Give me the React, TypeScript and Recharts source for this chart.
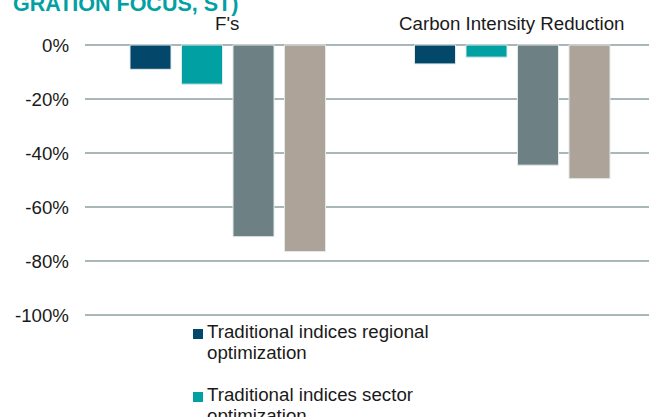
import { BarChart, Bar, XAxis, YAxis, CartesianGrid } from "recharts";

const categories = ["F's", "Carbon Intensity Reduction"];
const regional = [-9, -7];
const sector = [-14.5, -4.5];
const third = [-71, -44.5];
const fourth = [-76.5, -49.5];
const yTicks = [0, -20, -40, -60, -80, -100];

const SERIES = [
  { key: "regional", name: "Traditional indices regional optimization", color: "#03476a", values: regional },
  { key: "sector", name: "Traditional indices sector optimization", color: "#00a0a3", values: sector },
  { key: "third", name: "Series 3", color: "#6d8185", values: third },
  { key: "fourth", name: "Series 4", color: "#ada398", values: fourth },
];

// only the first two legend entries are visible in the frame
const LEGEND_SHOWN = 2;

const data = categories.map((cat, i) => {
  const row: Record<string, string | number> = { cat };
  SERIES.forEach((s) => {
    row[s.key] = s.values[i];
  });
  return row;
});

const FONT = "'Liberation Sans', Arial, sans-serif";

export default function App() {
  return (
    <div
      style={{
        position: "fixed",
        left: 0,
        top: 0,
        width: 649,
        height: 417,
        overflow: "hidden",
        background: "#fff",
        fontFamily: FONT,
      }}
    >
      <style>{`html, body { margin: 0; overflow: hidden; }`}</style>
      <div
        style={{
          position: "absolute",
          left: 13,
          top: -8,
          fontSize: 21.5,
          fontWeight: "bold",
          color: "#00a0a3",
          whiteSpace: "nowrap",
          lineHeight: "24px",
        }}
      >
        GRATION FOCUS, ST)
      </div>

      {/* plot runs past the right edge of the frame, as in the source */}
      <div style={{ position: "absolute", left: 0, top: 0, width: 700, height: 330 }}>
        <BarChart
          width={700}
          height={330}
          data={data}
          margin={{ top: 15, right: 46, bottom: 15, left: 0 }}
          barSize={41}
          barGap={10.5}
        >
          <CartesianGrid vertical={false} stroke="#8d9fa0" strokeWidth={1.6} />
          <XAxis
            dataKey="cat"
            orientation="top"
            height={30}
            axisLine={false}
            tickLine={false}
            tickMargin={9}
            tick={{ fontSize: 18.7, fill: "#1a1a1a", fontFamily: FONT }}
          />
          <YAxis
            domain={[-100, 0]}
            ticks={yTicks}
            width={85}
            axisLine={false}
            tickLine={false}
            tickMargin={10}
            tickFormatter={(v) => `${v}%`}
            tick={{ fontSize: 18.7, fill: "#1a1a1a", fontFamily: FONT }}
          />
          {SERIES.map((s) => (
            <Bar
              key={s.key}
              dataKey={s.key}
              name={s.name}
              fill={s.color}
              stroke="#e3e9e9"
              strokeWidth={1}
              isAnimationActive={false}
            />
          ))}
        </BarChart>
      </div>

      {/* Legend */}
      <div style={{ position: "absolute", left: 193, top: 321 }}>
        {SERIES.slice(0, LEGEND_SHOWN).map((s) => (
          <div
            key={s.key}
            style={{ display: "flex", alignItems: "flex-start", marginBottom: 21 }}
          >
            <span
              style={{
                width: 10,
                height: 10,
                marginTop: 8,
                marginRight: 4,
                background: s.color,
                flexShrink: 0,
              }}
            />
            <span
              style={{
                width: 245,
                fontSize: 18.7,
                lineHeight: "21px",
                color: "#1a1a1a",
              }}
            >
              {s.name}
            </span>
          </div>
        ))}
      </div>
    </div>
  );
}
